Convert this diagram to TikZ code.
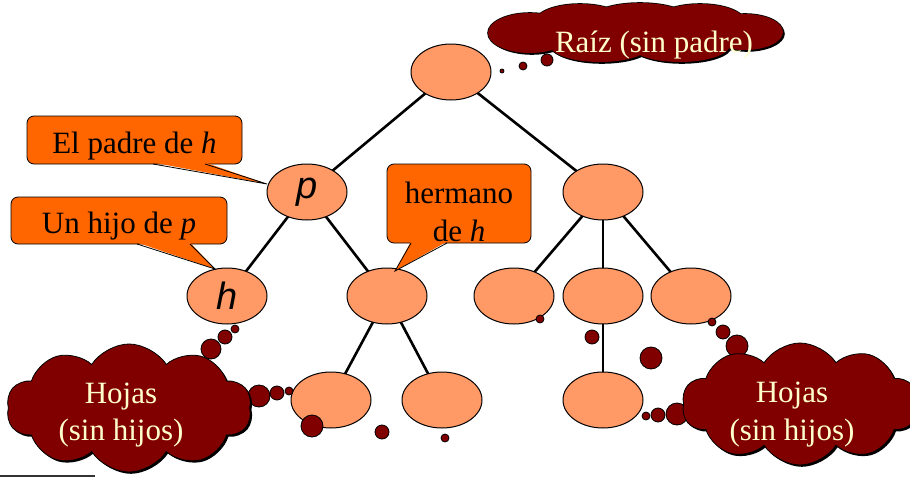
\documentclass[tikz,border=0pt]{standalone}
\usepackage{fontspec}
\setmainfont{Liberation Serif}
\newfontfamily\nodeletterfont{Liberation Sans}
\usetikzlibrary{shapes.geometric,shapes.symbols,shadows,calc}

\definecolor{nodefill}{HTML}{FF9966}
\definecolor{calloutfill}{HTML}{FF6600}
\definecolor{cloudfill}{HTML}{800000}
\definecolor{cloudtext}{HTML}{FFFFCC}

% lobes of the flat cloud at the top: centre x, centre y, x radius, y radius
\newcommand\rootcloudlobes{%
  530/33/42/20, 580/22/45/18, 640/20/50/17, 700/22/45/18, 745/32/38/18,
  600/45/50/17, 680/45/50/17, 637/33/120/22}

\begin{document}
\begin{tikzpicture}[x=1pt,y=-1pt,
  treenode/.style={ellipse, draw=black, line width=1pt, fill=nodefill,
    minimum width=80pt, minimum height=56pt, inner sep=0pt,
    font=\nodeletterfont\itshape\fontsize{38}{38}\selectfont},
  branch/.style={line width=2.6pt},
  labelbox/.style={draw=black, line width=0.8pt, fill=calloutfill, rounded corners=7pt, inner sep=0pt},
  labeltext/.style={font=\fontsize{31}{38}\selectfont, align=center, inner sep=0pt},
  pointer/.style={fill=calloutfill},
  pointeredge/.style={draw=black, line width=0.8pt, line join=miter},
  thought/.style={cloud, cloud ignores aspect,
    fill=cloudfill, draw=black, line width=0.8pt, inner sep=0pt,
    drop shadow={shadow xshift=1.8pt, shadow yshift=-1.8pt, fill=black, opacity=1}},
  thoughttext/.style={font=\fontsize{31}{37}\selectfont, text=cloudtext, inner sep=0pt},
  bubble/.style={circle, draw=black, line width=0.8pt, fill=cloudfill, inner sep=0pt}]

\useasboundingbox (0,0) rectangle (910,479);

% branches
\draw[branch] (451,72) coordinate (rootc) -- (307,192) coordinate (pc);
\draw[branch] (rootc) -- (603,192) coordinate (rc);
\draw[branch] (pc) -- (227,296) coordinate (hc);
\draw[branch] (pc) -- (387,296) coordinate (sc);
\draw[branch] (sc) -- (331,400) coordinate (s1c);
\draw[branch] (sc) -- (442,400) coordinate (s2c);
\draw[branch] (rc) -- (514,296) coordinate (r1c);
\draw[branch] (rc) -- (603,296) coordinate (r2c);
\draw[branch] (rc) -- (691,296) coordinate (r3c);
\draw[branch] (r2c) -- (603,400) coordinate (r21c);

% tree nodes over the branch ends
\node[treenode] (root) at (rootc) {};
\node[treenode] (p) at (pc) {p};
\node[treenode] (r) at (rc) {};
\node[treenode] (h) at (hc) {h};
\node[treenode] (s) at (sc) {};
\node[treenode] (r1) at (r1c) {};
\node[treenode] (r2) at (r2c) {};
\node[treenode] (r3) at (r3c) {};
\node[treenode] (s1) at (s1c) {};
\node[treenode] (s2) at (s2c) {};
\node[treenode] (r21) at (r21c) {};

% thought bubbles
\node[bubble, minimum size=4pt]  (t1) at (502,71) {};
\node[bubble, minimum size=8pt]  (t2) at (523,66) {};
\node[bubble, minimum size=12pt] (t3) at (547,60) {};

\node[bubble, minimum size=8pt]  (l1) at (235,329) {};
\node[bubble, minimum size=14pt] (l2) at (225,337) {};
\node[bubble, minimum size=20pt] (l3) at (211,349) {};
\node[bubble, minimum size=8pt]  (l4) at (289,391) {};
\node[bubble, minimum size=14pt] (l5) at (277,393) {};
\node[bubble, minimum size=22pt] (l6) at (259,396) {};
\node[bubble, minimum size=22pt] (l7) at (312,426) {};
\node[bubble, minimum size=14pt] (l8) at (382,432) {};
\node[bubble, minimum size=8pt]  (l9) at (445,438) {};

\node[bubble, minimum size=8pt]  (m1) at (540,319) {};
\node[bubble, minimum size=14pt] (m2) at (592,337) {};
\node[bubble, minimum size=22pt] (m3) at (651,358) {};
\node[bubble, minimum size=8pt]  (m4) at (712,322) {};
\node[bubble, minimum size=14pt] (m5) at (723,332) {};
\node[bubble, minimum size=22pt] (m6) at (737,346) {};
\node[bubble, minimum size=8pt]  (m7) at (646,416) {};
\node[bubble, minimum size=14pt] (m8) at (658,415) {};
\node[bubble, minimum size=22pt] (m9) at (677,414) {};

% flat cloud at the top: shadow, outlined lobes, then the filled union
\foreach \cx/\cy/\rx/\ry in \rootcloudlobes
  \fill[black] (\cx+1.8,\cy+1.8) ellipse [x radius=\rx, y radius=\ry];
\foreach \cx/\cy/\rx/\ry in \rootcloudlobes
  \draw[black, line width=1.6pt] (\cx,\cy) ellipse [x radius=\rx, y radius=\ry];
\foreach \cx/\cy/\rx/\ry in \rootcloudlobes
  \fill[cloudfill] (\cx,\cy) ellipse [x radius=\rx, y radius=\ry];
\node[thoughttext, anchor=base] (roottext) at (654,52) {Raíz (sin padre)};

\node[thought, cloud puffs=10, cloud puff arc=115, minimum width=245pt, minimum height=128pt] (leftcloud) at (129,408) {};
\node[thoughttext, anchor=base] (lefttext1) at (121,403) {Hojas};
\node[thoughttext, anchor=base] (lefttext2) at (121,440) {(sin hijos)};

\node[thought, cloud puffs=10, cloud puff arc=115, minimum width=236pt, minimum height=122pt] (rightcloud) at (800,404) {};
\node[thoughttext, anchor=base] (righttext1) at (792,402) {Hojas};
\node[thoughttext, anchor=base] (righttext2) at (792,440) {(sin hijos)};

% callout labels
\node[labelbox, minimum width=215pt, minimum height=48pt] (padrebox) at (134.5,140) {};
\node[labeltext, anchor=base] (padretext) at (134.5,153) {El padre de \textit{h}};
\coordinate (padreA) at (153,164);
\coordinate (padreB) at (205,164);
\coordinate (padretip) at (267,184);
\fill[pointer] ($(padreA)+(0,-1.5)$) -- (padretip) -- ($(padreB)+(0,-1.5)$) -- cycle;
\draw[pointeredge] (padreA) -- (padretip) -- (padreB);

\node[labelbox, minimum width=216pt, minimum height=47pt] (hijobox) at (119,220.5) {};
\node[labeltext, anchor=base] (hijotext) at (119,233) {Un hijo de \textit{p}};
\coordinate (hijoA) at (137,244);
\coordinate (hijoB) at (190,244);
\coordinate (hijotip) at (215,269);
\fill[pointer] ($(hijoA)+(0,-1.5)$) -- (hijotip) -- ($(hijoB)+(0,-1.5)$) -- cycle;
\draw[pointeredge] (hijoA) -- (hijotip) -- (hijoB);

\node[labelbox, minimum width=144pt, minimum height=79pt] (hermbox) at (459,203.5) {};
\node[labeltext] (hermtext) at (459,212) {hermano\\de \textit{h}};
\coordinate (hermA) at (411,243);
\coordinate (hermB) at (447,243);
\coordinate (hermtip) at (395,271);
\fill[pointer] ($(hermA)+(0,-1.5)$) -- (hermtip) -- ($(hermB)+(0,-1.5)$) -- cycle;
\draw[pointeredge] (hermA) -- (hermtip) -- (hermB);

% footer rule
\coordinate (ruleL) at (0,476);
\coordinate (ruleR) at (95,476);
\draw[line width=1.5pt, black!80] (ruleL) -- (ruleR);
\end{tikzpicture}
\end{document}
